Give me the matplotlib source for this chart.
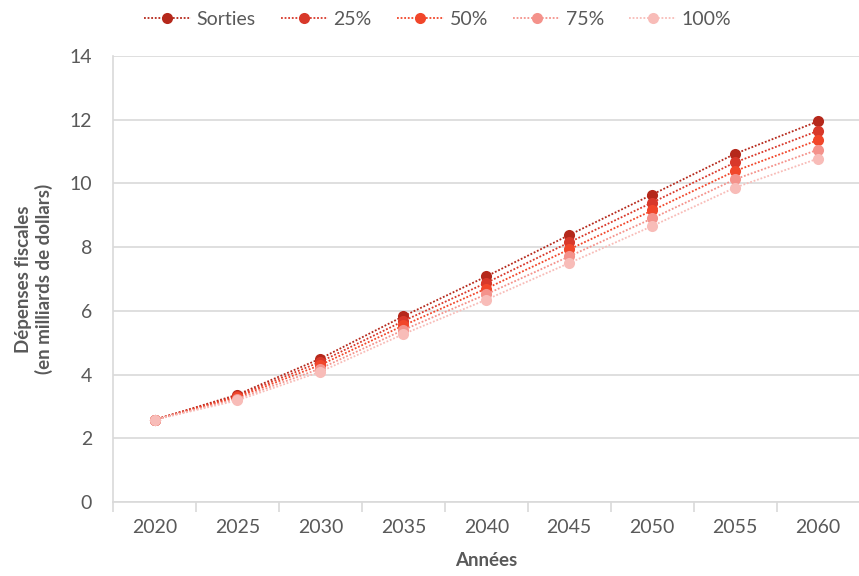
import matplotlib
matplotlib.use("Agg")
import matplotlib.pyplot as plt
from matplotlib.ticker import FixedLocator

# data
years = ["2020", "2025", "2030", "2035", "2040", "2045", "2050", "2055", "2060"]
sorties = [2.58, 3.37, 4.50, 5.83, 7.08, 8.38, 9.65, 10.93, 11.95]
p25 = [2.58, 3.33, 4.40, 5.68, 6.88, 8.15, 9.40, 10.66, 11.65]
p50 = [2.58, 3.29, 4.30, 5.54, 6.70, 7.93, 9.15, 10.39, 11.36]
p75 = [2.58, 3.24, 4.19, 5.40, 6.52, 7.71, 8.90, 10.13, 11.06]
p100 = [2.58, 3.19, 4.09, 5.27, 6.35, 7.50, 8.66, 9.87, 10.78]

series = [
    ("Sorties", sorties, "#b5281b"),
    ("25%", p25, "#d8382a"),
    ("50%", p50, "#f1462a"),
    ("75%", p75, "#f4928b"),
    ("100%", p100, "#f8bcb8"),
]

plt.rcParams["font.family"] = ["Lato", "DejaVu Sans"]

fig = plt.figure(figsize=(8.59, 5.76), dpi=100)
ax = fig.add_axes([0.1316, 0.1285, 0.869, 0.7743])

x = list(range(len(years)))
for name, vals, col in series:
    ax.plot(x, vals, color=col, linestyle=(0, (1, 1)), linewidth=1.3,
            marker="o", markersize=8, markeredgewidth=0, label=name)

ax.set_xlim(-0.5, len(years) - 0.5)
ax.set_ylim(0, 14)
ax.set_yticks(range(0, 15, 2))
ax.set_xticks(x)
ax.set_xticklabels(years)
ax.xaxis.set_minor_locator(FixedLocator([i - 0.5 for i in range(len(years) + 1)]))

ax.grid(axis="y", color="#d9d9d9", linewidth=1.2)
ax.set_axisbelow(True)
for s in ["top", "right"]:
    ax.spines[s].set_visible(False)
for s in ["left", "bottom"]:
    ax.spines[s].set_color("#d9d9d9")
    ax.spines[s].set_linewidth(1.2)

ax.tick_params(axis="x", which="major", length=0, pad=12, labelsize=14, colors="#595959")
ax.tick_params(axis="x", which="minor", length=7, width=1.2, color="#d9d9d9")
ax.tick_params(axis="y", length=0, pad=15, labelsize=14, colors="#595959")

ax.set_xlabel("Années", fontsize=13.5, fontweight="bold", color="#595959", labelpad=12)
ax.set_ylabel("Dépenses fiscales\n(en milliards de dollars)", fontsize=13.5,
              fontweight="bold", color="#595959", labelpad=12)

ax.legend(loc="upper center", bbox_to_anchor=(0.435, 1.14), ncol=5, frameon=False,
          fontsize=14, labelcolor="#595959", handlelength=2.4, columnspacing=1.3,
          handletextpad=0.3)

fig.savefig("out.png", dpi=100)
